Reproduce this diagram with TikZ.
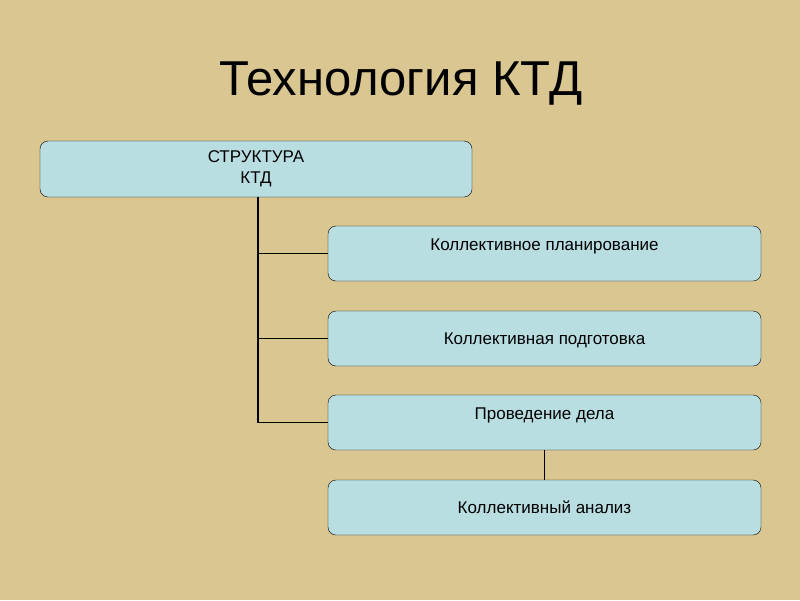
\documentclass[tikz,border=0pt]{standalone}
\usepackage{fontspec}
\setmainfont{Liberation Sans}
\usetikzlibrary{positioning}

\definecolor{paper}{HTML}{DAC690}
\definecolor{boxfill}{HTML}{B9DEE2}

\tikzstyle{block}=[draw=black,fill=boxfill,rounded corners=8pt,minimum width=433pt,minimum height=55pt,inner sep=0pt,align=center,font=\fontsize{17}{21}\selectfont]
\tikzstyle{uptext}=[text height=12pt,text depth=19pt]
\tikzstyle{midtext}=[text height=12pt,text depth=0pt]
\tikzstyle{edge} = [draw,line width=1.6pt,-]
\tikzstyle{heading}=[font=\fontsize{49}{56}\selectfont,anchor=base]

\begin{document}
\begin{tikzpicture}[x=1pt,y=-1pt]
    % Page and background
    \fill[paper] (0,0) rectangle (800,600);
    \useasboundingbox (0,0) rectangle (800,600);
    \node[heading] (title) at (401,95) {Технология КТД};
    % First we draw the boxes
    \node[block,minimum width=432pt,minimum height=56pt] (struct) at (256,169) {СТРУКТУРА\\КТД};
    \foreach \y/\name/\place/\txt in {253.5/plan/uptext/Коллективное планирование,
                                   338.5/prep/midtext/Коллективная подготовка,
                                   422.5/exec/uptext/Проведение дела,
                                   507.5/anal/midtext/Коллективный анализ}
        \node[block,\place] (\name) at (544.5,\y) {\txt};
    % Connect boxes with lines
    \foreach \dest in {plan,prep,exec}
        \path[edge] (struct.south -| 258,0) |- (\dest.west);
    \path[edge] (exec) -- (anal);
\end{tikzpicture}
\end{document}
